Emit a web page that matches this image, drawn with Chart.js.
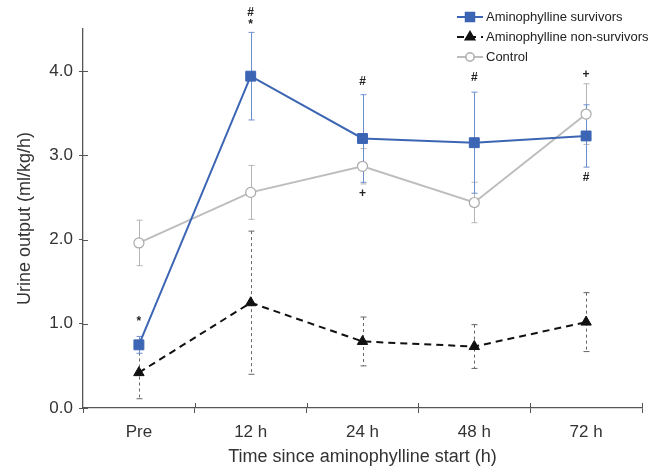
<!DOCTYPE html>
<html>
<head>
<meta charset="utf-8">
<script src="https://cdn.jsdelivr.net/npm/chart.js@4/dist/chart.umd.min.js"></script>
<style>
  html, body { margin: 0; padding: 0; background: #fff; }
  #wrap { width: 665px; height: 471px; position: relative; }
</style>
</head>
<body>
<div id="wrap"><canvas id="mainChart"></canvas></div>
<script>
const categories = ['Pre', '12 h', '24 h', '48 h', '72 h'];
const survivors = [0.75, 3.94, 3.20, 3.15, 3.23];
const survivorsErr = [0.10, 0.52, 0.52, 0.60, 0.37];
const nonSurvivors = [0.42, 1.25, 0.79, 0.73, 1.02];
const nonSurvivorsErr = [0.31, 0.85, 0.29, 0.26, 0.35];
const control = [1.96, 2.56, 2.87, 2.44, 3.49];
const controlErr = [0.27, 0.32, 0.21, 0.24, 0.36];
const yTicks = [0, 1, 2, 3, 4];
// significance marks: category index, value where the symbol sits, symbol
const markCats = [0, 1, 1, 2, 2, 3, 4, 4];
const markVals = [1.02, 4.69, 4.55, 3.87, 2.54, 3.92, 3.96, 2.74];
const markText = ['*', '#', '*', '#', '+', '#', '+', '#'];

const BLUE = '#3c65b4';
const GREY = '#bdbdbd';
const DARK = '#111111';
const AXIS = '#555555';
const FONT = "'Liberation Sans', Arial, sans-serif";

// error bars drawn under the markers
const errorBars = {
    id: 'errorBars',
    beforeDatasetsDraw(chart) {
        const ctx = chart.ctx;
        const x = chart.scales.x, y = chart.scales.y;
        const sets = [
            { v: control, e: controlErr, color: '#b5b5b5', dash: [] },
            { v: nonSurvivors, e: nonSurvivorsErr, color: '#666666', dash: [3, 3] },
            { v: survivors, e: survivorsErr, color: '#6d8fd0', dash: [] }
        ];
        ctx.save();
        sets.forEach(s => {
            ctx.strokeStyle = s.color;
            ctx.lineWidth = 1;
            s.v.forEach((val, i) => {
                const px = Math.round(x.getPixelForValue(i)) + 0.5;
                const top = y.getPixelForValue(val + s.e[i]);
                const bot = y.getPixelForValue(val - s.e[i]);
                ctx.setLineDash(s.dash);
                ctx.beginPath();
                ctx.moveTo(px, top);
                ctx.lineTo(px, bot);
                ctx.stroke();
                ctx.setLineDash([]);
                ctx.beginPath();
                ctx.moveTo(px - 3, top); ctx.lineTo(px + 3, top);
                ctx.moveTo(px - 3, bot); ctx.lineTo(px + 3, bot);
                ctx.stroke();
            });
        });
        ctx.restore();
    }
};

// inner halves of the axis tick marks, symbols and the legend
const extras = {
    id: 'extras',
    afterDraw(chart) {
        const ctx = chart.ctx;
        const x = chart.scales.x, y = chart.scales.y;
        const area = chart.chartArea;
        ctx.save();
        ctx.strokeStyle = AXIS;
        ctx.lineWidth = 1;
        ctx.beginPath();
        for (let i = 1; i <= categories.length; i++) {
            const px = Math.round(x.getPixelForValue(i - 0.5)) + 0.5;
            ctx.moveTo(px, area.bottom);
            ctx.lineTo(px, area.bottom - 5);
        }
        yTicks.forEach(v => {
            const py = Math.round(y.getPixelForValue(v)) + 0.5;
            ctx.moveTo(area.left, py);
            ctx.lineTo(area.left + 5, py);
        });
        ctx.stroke();

        ctx.fillStyle = '#222';
        ctx.font = 'bold 12px ' + FONT;
        ctx.textAlign = 'center';
        ctx.textBaseline = 'middle';
        markCats.forEach((c, i) => {
            ctx.fillText(markText[i], x.getPixelForValue(c), y.getPixelForValue(markVals[i]));
        });

        // legend
        const items = [
            { label: 'Aminophylline survivors', ds: 0, y: 17 },
            { label: 'Aminophylline non-survivors', ds: 1, y: 37 },
            { label: 'Control', ds: 2, y: 57 }
        ];
        const x0 = 457, x1 = 483;
        items.forEach(it => {
            const d = chart.data.datasets[it.ds];
            ctx.strokeStyle = d.borderColor;
            ctx.lineWidth = 2;
            ctx.setLineDash(d.borderDash || []);
            ctx.beginPath();
            ctx.moveTo(x0, it.y);
            ctx.lineTo(x1, it.y);
            ctx.stroke();
            ctx.setLineDash([]);
            Chart.helpers.drawPoint(ctx, {
                pointStyle: d.pointStyle,
                radius: d.pointRadius - 1,
                borderWidth: d.pointBorderWidth
            }, (x0 + x1) / 2, it.y);
            ctx.fillStyle = d.pointBackgroundColor;
            ctx.strokeStyle = d.pointBorderColor;
            ctx.lineWidth = d.pointBorderWidth;
            ctx.fill();
            ctx.stroke();
            ctx.fillStyle = '#222';
            ctx.font = '13px ' + FONT;
            ctx.textAlign = 'left';
            ctx.fillText(it.label, x1 + 3, it.y);
        });
        ctx.restore();
    }
};

function initChart() {
    const ctx = document.getElementById('mainChart').getContext('2d');
    Chart.defaults.font.family = FONT;
    Chart.defaults.color = '#333';
    new Chart(ctx, {
        type: 'line',
        data: {
            labels: categories,
            datasets: [
                { label: 'Aminophylline survivors', data: survivors, borderColor: BLUE, borderWidth: 2,
                  pointStyle: 'rect', pointRadius: 7, pointBackgroundColor: BLUE, pointBorderColor: BLUE, pointBorderWidth: 1 },
                { label: 'Aminophylline non-survivors', data: nonSurvivors, borderColor: DARK, borderWidth: 2, borderDash: [7, 5],
                  pointStyle: 'triangle', pointRadius: 6, pointBackgroundColor: DARK, pointBorderColor: DARK, pointBorderWidth: 1 },
                { label: 'Control', data: control, borderColor: GREY, borderWidth: 2,
                  pointStyle: 'circle', pointRadius: 5, pointBackgroundColor: '#fff', pointBorderColor: '#aaa', pointBorderWidth: 1.2 }
            ]
        },
        options: {
            responsive: true, maintainAspectRatio: false, animation: false,
            layout: { padding: { top: 29, right: 23, left: 0, bottom: 0 } },
            plugins: { legend: { display: false }, tooltip: { enabled: false } },
            scales: {
                x: {
                    offset: true,
                    grid: { offset: true, drawOnChartArea: false, tickLength: 5, color: AXIS },
                    border: { color: AXIS, width: 1.3 },
                    ticks: { padding: 9, color: '#333', font: { size: 17 } },
                    title: { display: true, text: 'Time since aminophylline start (h)', color: '#333',
                             font: { size: 18 }, padding: { top: 0, bottom: 3 } },
                    afterFit: s => { s.height = 63; }
                },
                y: {
                    min: 0, max: 4.5,
                    afterBuildTicks: s => { s.ticks = yTicks.map(v => ({ value: v })); },
                    grid: { drawOnChartArea: false, tickLength: 4, color: AXIS },
                    border: { color: AXIS, width: 1.3 },
                    ticks: { padding: 6, color: '#333', font: { size: 17 }, callback: v => v.toFixed(1) },
                    title: { display: true, text: 'Urine output (ml/kg/h)', color: '#333',
                             font: { size: 18 }, padding: { top: 14, bottom: 0 } },
                    afterFit: s => { s.width = 83; }
                }
            }
        },
        plugins: [errorBars, extras]
    });
}

initChart();
</script>
</body>
</html>
